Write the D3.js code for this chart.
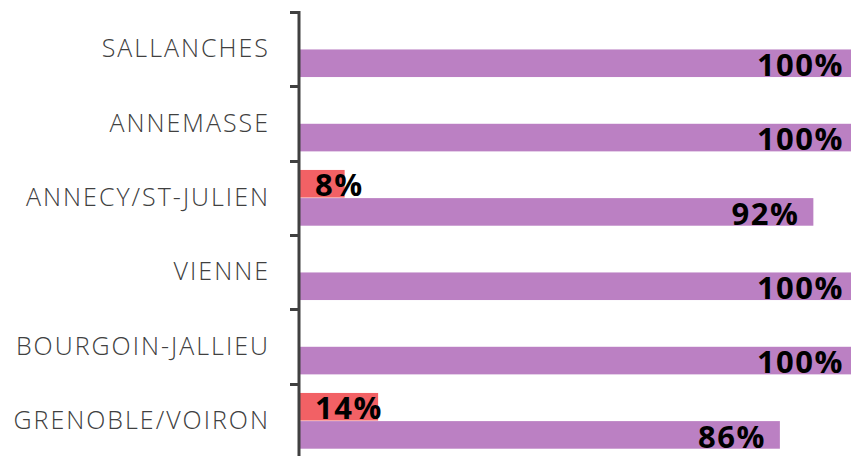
<!DOCTYPE html>
<html lang="fr">
<head>
  <meta charset="UTF-8">
  <script src="https://cdn.jsdelivr.net/npm/d3@7"></script>
  <title>Bar Chart</title>
  <style>
    body { margin: 0; background: #fff; }
    .tick text { font-family: "Open Sans", sans-serif; font-weight: 300; font-size: 25px; letter-spacing: 2px; fill: #404040; }
    .val { font-family: "Open Sans", sans-serif; font-weight: bold; font-size: 31px; letter-spacing: 1.5px; fill: #000; }
  </style>
</head>
<body>
  <script>
    // categories from top to bottom
    var sites = ["SALLANCHES", "ANNEMASSE", "ANNECY/ST-JULIEN", "VIENNE", "BOURGOIN-JALLIEU", "GRENOBLE/VOIRON"];
    // two series, in %
    var redValues = [0, 0, 8, 0, 0, 14];
    var purpleValues = [100, 100, 92, 100, 100, 86];
    var seriesNames = ["red", "purple"];
    var seriesColors = { red: "#f26165", purple: "#bb80c3" };

    var width = 851, height = 456;

    var svg = d3.select("body")
      .append("svg")
      .attr("width", width)
      .attr("height", height);

    var x = d3.scaleLinear().domain([0, 100]).range([300, 858]);

    var y = d3.scaleBand()
      .domain(sites)
      .range([12, 458])
      .paddingInner(0.25)
      .paddingOuter(0.125);

    var ySeries = d3.scaleBand()
      .domain(seriesNames)
      .range([0, y.bandwidth()])
      .paddingInner(0.02);

    var rows = sites.map(function (s, i) {
      return { site: s, red: redValues[i], purple: purpleValues[i] };
    });

    var groups = svg.append("g")
      .selectAll("g")
      .data(rows)
      .enter()
      .append("g")
      .attr("transform", function (d) { return "translate(0," + y(d.site) + ")"; });

    seriesNames.forEach(function (key) {
      groups.filter(function (d) { return d[key] > 0; })
        .append("rect")
        .attr("x", x(0))
        .attr("y", ySeries(key))
        .attr("width", function (d) { return x(d[key]) - x(0); })
        .attr("height", ySeries.bandwidth())
        .attr("fill", seriesColors[key]);
    });

    // red labels: inside base, purple labels: inside end
    groups.filter(function (d) { return d.red > 0; })
      .append("text")
      .classed("val", true)
      .attr("x", x(0) + 15)
      .attr("y", ySeries("red") + ySeries.bandwidth() - 2)
      .text(function (d) { return d.red + "%"; });

    groups.append("text")
      .classed("val", true)
      .attr("text-anchor", "end")
      .attr("x", function (d) { return x(d.purple) - 14; })
      .attr("y", ySeries("purple") + ySeries.bandwidth() - 1)
      .text(function (d) { return d.purple + "%"; });

    // y axis with labels, ticks at band edges
    var axis = svg.append("g")
      .attr("transform", "translate(299,0)")
      .call(d3.axisLeft(y).tickSize(0).tickPadding(29));

    axis.select(".domain").remove();

    axis.append("line")
      .attr("x1", 0).attr("x2", 0)
      .attr("y1", 11).attr("y2", height)
      .attr("stroke", "#404040")
      .attr("stroke-width", 3);

    var edges = sites.map(function (s) { return y(s) - y.step() * y.paddingInner() / 2; });
    edges.push(y.range()[1]);

    axis.selectAll(".edge")
      .data(edges)
      .enter()
      .append("line")
      .classed("edge", true)
      .attr("x1", -9).attr("x2", 0)
      .attr("y1", function (d) { return Math.round(d) + 0.5; })
      .attr("y2", function (d) { return Math.round(d) + 0.5; })
      .attr("stroke", "#404040")
      .attr("stroke-width", 3);
  </script>
</body>
</html>
